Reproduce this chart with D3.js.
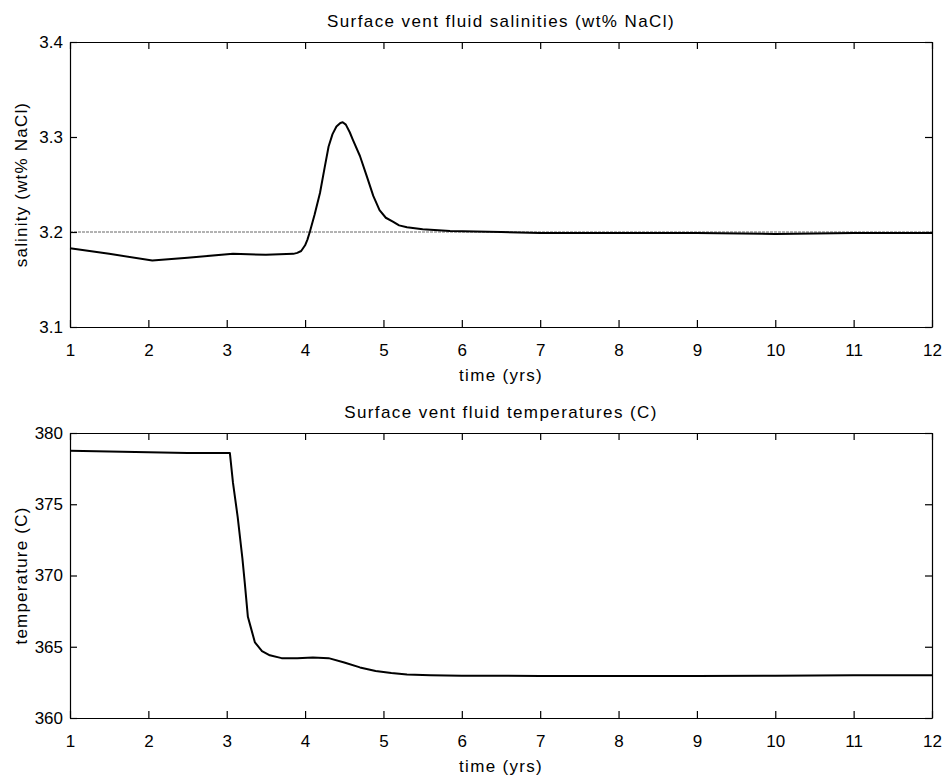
<!DOCTYPE html>
<html>
<head>
<meta charset="utf-8">
<script src="https://cdn.jsdelivr.net/npm/d3@7"></script>
<style>
  body { margin: 0; background: #fff; }
  svg text { font-family: "Liberation Sans", Arial, Helvetica, sans-serif; fill: #000; }
  .axis path, .axis line { stroke: #000; stroke-width: 1.2; }
</style>
</head>
<body>
<svg id="chart" width="944" height="777"></svg>
<script>
// salinity panel
var sal_time = [1, 1.5, 2.05, 2.5, 3.08, 3.5, 3.85, 3.9, 3.95, 4.0, 4.03, 4.06, 4.12, 4.19, 4.25, 4.3,
    4.35, 4.4, 4.45, 4.48, 4.52, 4.57, 4.61, 4.7, 4.79, 4.87, 4.95, 5.03, 5.12, 5.2, 5.3, 5.5, 5.85,
    6.5, 7, 8, 9, 10, 11, 12];
var sal_value = [3.183, 3.177, 3.170, 3.173, 3.177, 3.176, 3.177, 3.178, 3.180, 3.186, 3.192, 3.200,
    3.218, 3.241, 3.268, 3.290, 3.303, 3.311, 3.3148, 3.3155, 3.313, 3.305, 3.297, 3.280, 3.258,
    3.238, 3.223, 3.215, 3.211, 3.207, 3.205, 3.203, 3.201, 3.200, 3.199, 3.199, 3.199, 3.198,
    3.199, 3.199];
var sal_ref = 3.2;
var sal_ticks = [3.1, 3.2, 3.3, 3.4];

// temperature panel
var temp_time = [1, 1.5, 2, 2.5, 3.04, 3.08, 3.14, 3.2, 3.23, 3.27, 3.3, 3.36, 3.45, 3.55, 3.7, 3.9, 4.1,
    4.3, 4.5, 4.7, 4.9, 5.1, 5.3, 5.6, 6, 7, 8, 9, 10, 11, 12];
var temp_value = [378.75, 378.7, 378.65, 378.6, 378.6, 376.5, 374.1, 371.2, 369.5, 367.1, 366.5, 365.3,
    364.7, 364.4, 364.2, 364.2, 364.25, 364.2, 363.9, 363.55, 363.3, 363.15, 363.05, 363.0, 362.97,
    362.95, 362.95, 362.95, 362.97, 363.0, 363.0];
var temp_ticks = [360, 365, 370, 375, 380];

var time_ticks = [1, 2, 3, 4, 5, 6, 7, 8, 9, 10, 11, 12];

var svg = d3.select("#chart");
var left = 70, right = 932;

function draw_panel (top, bottom, times, values, ydomain, yticks, title, ylabel, ref){
    var x = d3.scaleLinear().domain([1, 12]).range([left, right]);
    var y = d3.scaleLinear().domain(ydomain).range([bottom, top]);
    var g = svg.append("g");

    if (ref != null){
        g.append("line")
        .attr("x1", x(1))
        .attr("x2", x(12))
        .attr("y1", y(ref))
        .attr("y2", y(ref))
        .attr("stroke", "#666")
        .attr("stroke-width", 1)
        .attr("stroke-dasharray", "3,1");
    }

    var line = d3.line()
        .x(function(d, i){ return x(times[i]); })
        .y(function(d){ return y(d); });
    g.append("path")
    .datum(values)
    .attr("d", line)
    .attr("fill", "none")
    .attr("stroke", "#000")
    .attr("stroke-width", 2)
    .attr("stroke-linejoin", "round");

    // axes, ticks pointing inward
    g.append("g")
    .attr("class", "axis")
    .attr("transform", "translate(0," + bottom + ")")
    .style("font-size", "17px")
    .call(d3.axisBottom(x).tickValues(time_ticks).tickFormat(d3.format("d"))
        .tickSizeInner(-7).tickSizeOuter(0).tickPadding(17));
    g.append("g")
    .attr("class", "axis")
    .attr("transform", "translate(0," + top + ")")
    .call(d3.axisTop(x).tickValues(time_ticks).tickFormat("")
        .tickSizeInner(-7).tickSizeOuter(0));
    g.append("g")
    .attr("class", "axis")
    .attr("transform", "translate(" + left + ",0)")
    .style("font-size", "17px")
    .call(d3.axisLeft(y).tickValues(yticks).tickFormat(function(d){ return d3.format("")(d); })
        .tickSizeInner(-7).tickSizeOuter(0).tickPadding(7));
    g.append("g")
    .attr("class", "axis")
    .attr("transform", "translate(" + right + ",0)")
    .call(d3.axisRight(y).tickValues(yticks).tickFormat("")
        .tickSizeInner(-7).tickSizeOuter(0));
    g.selectAll(".axis text").attr("fill", "#000").style("font-family", null);

    g.append("text")
    .text(title)
    .attr("x", (left + right) / 2)
    .attr("y", top - 15)
    .attr("text-anchor", "middle")
    .attr("font-size", 17)
    .attr("letter-spacing", "1.4px");

    g.append("text")
    .text("time (yrs)")
    .attr("x", (left + right) / 2)
    .attr("y", bottom + 54)
    .attr("text-anchor", "middle")
    .attr("font-size", 17)
    .attr("letter-spacing", "1.3px");

    g.append("text")
    .text(ylabel)
    .attr("transform", "translate(27," + (top + bottom) / 2 + ") rotate(-90)")
    .attr("text-anchor", "middle")
    .attr("font-size", 17)
    .attr("letter-spacing", "1.2px");
}

draw_panel(42, 327, sal_time, sal_value, [3.1, 3.4], sal_ticks,
    "Surface vent fluid salinities (wt% NaCl)", "salinity (wt% NaCl)", sal_ref);
draw_panel(433, 718, temp_time, temp_value, [360, 380], temp_ticks,
    "Surface vent fluid temperatures (C)", "temperature (C)", null);
</script>
</body>
</html>
